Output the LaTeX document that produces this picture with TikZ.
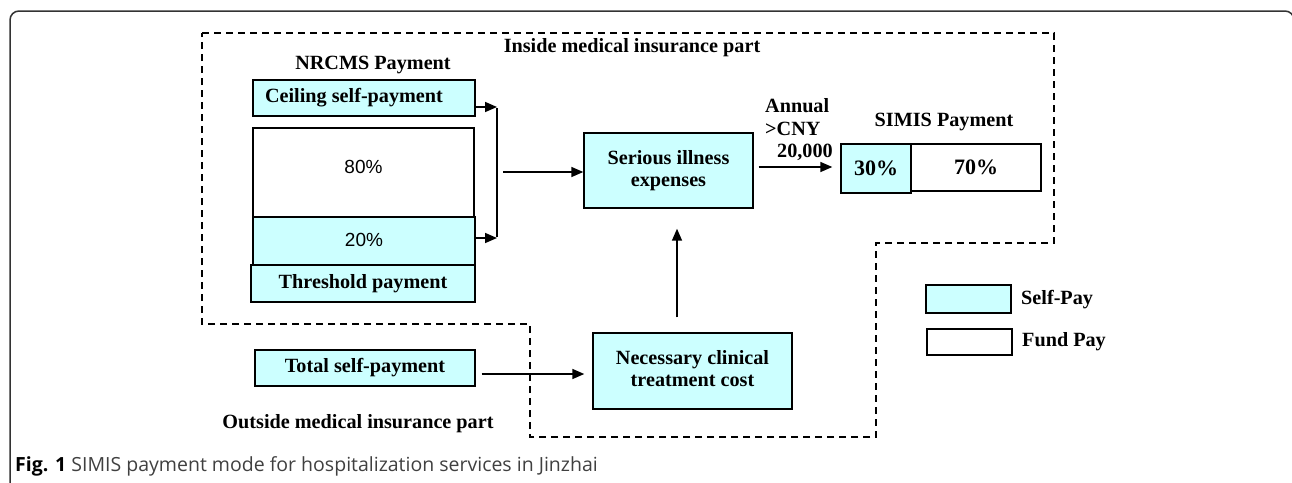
\documentclass[tikz,border=0pt]{standalone}
\usepackage{fontspec}
\setmainfont{Liberation Serif}
\newfontfamily\capfont{Open Sans}
\newfontfamily\arialfont{Liberation Sans}
\usetikzlibrary{arrows.meta,calc}
\definecolor{selfcyan}{HTML}{CCFFFF}
\definecolor{framegray}{HTML}{333333}
\definecolor{capgray}{HTML}{404040}
\begin{document}
\begin{tikzpicture}[x=1pt,y=-1pt,
  boxbase/.style={draw=black, line width=1.4pt, inner sep=0pt, font=\fontsize{20.2}{23}\selectfont\bfseries, align=center},
  selfbox/.style={boxbase, fill=selfcyan},
  fundbox/.style={boxbase, fill=white},
  lbl/.style={inner sep=0pt, font=\fontsize{20.2}{23}\selectfont\bfseries, align=center},
  arr/.style={line width=1.6pt, -{Triangle[length=12pt,width=10pt]}},
  plain/.style={line width=1.6pt},
  zone/.style={line width=1.3pt, dash pattern=on 7pt off 5pt}]
\useasboundingbox (0,0) rectangle (1292,482);
% outer frame
\draw[framegray, line width=1.5pt, rounded corners=9pt] (10,560) -- (10,11) -- (1294,11) -- (1294,560);
% dashed zone
\draw[zone] (202,33) -- (1054,33) -- (1054,243) -- (876,243) -- (876,437) -- (530,437) -- (530,324) -- (202,324) -- cycle;
% texts
\node[lbl] (inside) at (632,48) {Inside medical insurance part};
\node[lbl] (nrcms) at (373,65) {NRCMS Payment};
\node[lbl] (outside) at (358,424) {Outside medical insurance part};
% NRCMS stack
\node[selfbox, minimum width=222pt, minimum height=36pt] (ceil) at (364,98) {\hspace*{-20pt}Ceiling self-payment};
\node[fundbox, minimum width=221pt, minimum height=89pt, font=\fontsize{19}{22}\selectfont\arialfont] (p80) at (363.5,172.5) {\raisebox{12pt}{80\%}};
\node[selfbox, minimum width=222pt, minimum height=48pt, font=\fontsize{19}{22}\selectfont\arialfont] (p20) at (364,241) {\raisebox{3pt}{20\%}};
\node[selfbox, minimum width=224pt, minimum height=37pt] (thr) at (363,283.5) {Threshold payment};
% merge bar
\coordinate (bartop) at (497,107);
\coordinate (barbot) at (497,238);
\coordinate (barout) at (503,172);
\draw[arr] (ceil.east |- bartop) -- (bartop);
\draw[arr] (p20.east |- barbot) -- (barbot);
\draw[plain] ([yshift=-0.8pt]bartop) -- ([yshift=0.8pt]barbot);
% serious
\node[selfbox, minimum width=169pt, minimum height=75pt] (serious) at (668.5,170.5) {\raisebox{5pt}{\begin{tabular}{@{}c@{}}Serious illness\\[-1pt] expenses\end{tabular}}};
\draw[arr] (barout) -- (serious.west |- barout);
% SIMIS
\node[lbl] (simis) at (944,122) {SIMIS Payment};
\node[selfbox, minimum width=70pt, minimum height=49pt, font=\fontsize{22}{25}\selectfont\bfseries] (pay30) at (876,168.5) {30\%};
\node[fundbox, minimum width=130pt, minimum height=47pt, font=\fontsize{22}{25}\selectfont\bfseries] (pay70) at (976,167.5) {70\%};
\coordinate (annrow) at (0,167);
\draw[arr, shorten <=5pt, shorten >=8pt] (serious.east |- annrow) -- (pay30.west |- annrow);
\node[lbl, align=left, anchor=west, font=\fontsize{20.2}{22.5}\selectfont\bfseries] (annual) at (765,130) {Annual\\ >CNY\\ \hspace*{12pt}20,000};
% legend
\node[selfbox, minimum width=85pt, minimum height=28pt] (selfleg) at (968.5,299) {};
\node[fundbox, minimum width=85pt, minimum height=26pt] (fundleg) at (969.5,342) {};
\node[lbl, anchor=west] (selfpay) at (1021,300) {Self-Pay};
\node[lbl, anchor=west] (fundpay) at (1022,342) {Fund Pay};
% outside part
\node[selfbox, minimum width=220pt, minimum height=36pt] (total) at (365,368) {Total self-payment};
\node[selfbox, minimum width=199pt, minimum height=76pt] (necc) at (692.5,371) {\raisebox{6pt}{\begin{tabular}{@{}c@{}}Necessary clinical\\[-1pt] treatment cost\end{tabular}}};
\coordinate (totrow) at (0,374);
\draw[arr, shorten <=6pt, shorten >=8pt] (total.east |- totrow) -- (necc.west |- totrow);
\coordinate (arrx) at (677,0);
\draw[arr, shorten <=15pt, shorten >=20pt] (necc.north -| arrx) -- (serious.south -| arrx);
% caption
\node[anchor=west, inner sep=0pt, font=\fontsize{19.5}{22}\selectfont\capfont] (caption) at (15,466) {\textbf{Fig. 1} \textcolor{capgray}{SIMIS payment mode for hospitalization services in Jinzhai}};
\end{tikzpicture}
\end{document}
